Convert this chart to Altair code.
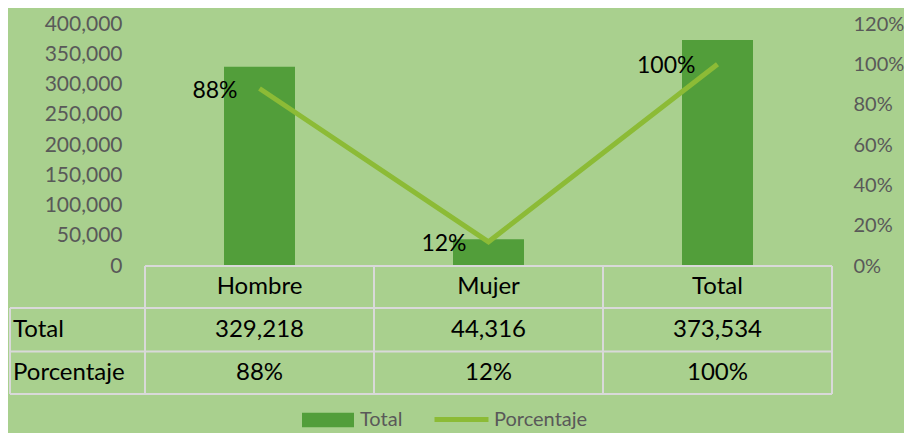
import altair as alt
import pandas as pd

# ---- data ----
categories = ["Hombre", "Mujer", "Total"]
totals = [329218, 44316, 373534]
percentages = [0.88, 0.12, 1.00]
left_ticks = [0, 50000, 100000, 150000, 200000, 250000, 300000, 350000, 400000]
right_ticks = [0, 0.2, 0.4, 0.6, 0.8, 1.0, 1.2]
row_labels = ["Total", "Porcentaje"]
series_names = ["Total", "Porcentaje"]

# ---- style ----
BG = "#A9D08E"
BAR = "#529E3A"
LINE = "#8CBB36"
GRIDC = "#D9D9D9"
AXC = "#595959"
FONT = "Lato"

W, H = 687, 242

df = pd.DataFrame({
    "cat": categories,
    "total": totals,
    "pct": percentages,
    "s_bar": series_names[0],
    "s_line": series_names[1],
})
df["total_txt"] = [f"{v:,}" for v in totals]
df["pct_txt"] = [f"{round(p * 100)}%" for p in percentages]

one = pd.DataFrame({"a": [0]})

xenc = alt.X("cat:N", sort=categories,
             scale=alt.Scale(paddingInner=0, paddingOuter=0), axis=None)

bars = alt.Chart(df).mark_bar(width=alt.RelativeBandSize(0.31)).encode(
    x=xenc,
    y=alt.Y("total:Q", scale=alt.Scale(domain=[0, 400000]),
            axis=alt.Axis(orient="left", values=left_ticks, title=None,
                          labelExpr="format(datum.value, ',')",
                          domain=False, ticks=False, grid=False, labelPadding=23,
                          labelFont=FONT, labelFontSize=21, labelColor=AXC)),
    color=alt.Color("s_bar:N", scale=alt.Scale(domain=[series_names[0]], range=[BAR]),
                    legend=alt.Legend(title=None, orient="none", legendX=157, legendY=370,
                                      symbolType="M-1,-0.28H1V0.28H-1Z", symbolSize=2704,
                                      symbolStrokeWidth=0, labelFont=FONT, labelFontSize=20,
                                      labelColor=AXC, labelOffset=6)),
)

line = alt.Chart(df).mark_line(strokeWidth=5).encode(
    x=xenc,
    y=alt.Y("pct:Q", scale=alt.Scale(domain=[0, 1.2]),
            axis=alt.Axis(orient="right", values=right_ticks, title=None,
                          labelExpr="format(datum.value, '.0%')",
                          domain=False, ticks=False, grid=False, labelPadding=21,
                          labelFont=FONT, labelFontSize=20, labelColor=AXC)),
    stroke=alt.Stroke("s_line:N", scale=alt.Scale(domain=[series_names[1]], range=[LINE]),
                      legend=alt.Legend(title=None, orient="none", legendX=287, legendY=366,
                                        symbolType="stroke", symbolSize=2916,
                                        symbolStrokeWidth=5, labelFont=FONT, labelFontSize=20,
                                        labelColor=AXC, labelOffset=3)),
)

labels = alt.Chart(df).mark_text(align="right", baseline="middle", dx=-22, dy=2,
                                 fontSize=23, font=FONT, color="black").encode(
    x=xenc,
    y=alt.Y("pct:Q", scale=alt.Scale(domain=[0, 1.2]), axis=None),
    text="pct_txt:N",
)

# ---- data table under the plot ----
def hrule(y, x0, x1):
    return alt.Chart(one).mark_rule(color=GRIDC, strokeWidth=2).encode(
        x=alt.value(x0), x2=alt.value(x1), y=alt.value(y))

vrules = alt.Chart(df).mark_rule(color=GRIDC, strokeWidth=2).encode(
    x=alt.X("cat:N", sort=categories, bandPosition=0,
            scale=alt.Scale(paddingInner=0, paddingOuter=0), axis=None),
    y=alt.value(H), y2=alt.value(370))
vend = alt.Chart(one).mark_rule(color=GRIDC, strokeWidth=2).encode(
    x=alt.value(W), y=alt.value(H), y2=alt.value(370))
vleft = alt.Chart(one).mark_rule(color=GRIDC, strokeWidth=2).encode(
    x=alt.value(-135), y=alt.value(284), y2=alt.value(370))

txt = dict(font=FONT, fontSize=24, color="black", baseline="middle")
header = alt.Chart(df).mark_text(**txt).encode(x=xenc, y=alt.value(263), text="cat:N")
row_total = alt.Chart(df).mark_text(**txt).encode(x=xenc, y=alt.value(306), text="total_txt:N")
row_pct = alt.Chart(df).mark_text(**txt).encode(x=xenc, y=alt.value(349), text="pct_txt:N")

lab_df = pd.DataFrame({"lab": row_labels})
rowlab1 = alt.Chart(lab_df.iloc[[0]]).mark_text(align="left", **txt).encode(
    x=alt.value(-132), y=alt.value(306), text="lab:N")
rowlab2 = alt.Chart(lab_df.iloc[[1]]).mark_text(align="left", **txt).encode(
    x=alt.value(-132), y=alt.value(349), text="lab:N")

chart = alt.layer(
    bars, line, labels,
    hrule(H, 0, W), hrule(284, -135, W), hrule(327.5, -135, W), hrule(370, -135, W),
    vrules, vend, vleft,
    header, row_total, row_pct, rowlab1, rowlab2,
).resolve_scale(y="independent").properties(
    width=W, height=H,
    autosize=alt.AutoSizeParams(type="none"),
    padding={"left": 137, "top": 16, "right": 72, "bottom": 167},
    background=BG,
).configure_view(strokeWidth=0)

chart.save("out.html", embed_options={"renderer": "svg", "actions": False})
